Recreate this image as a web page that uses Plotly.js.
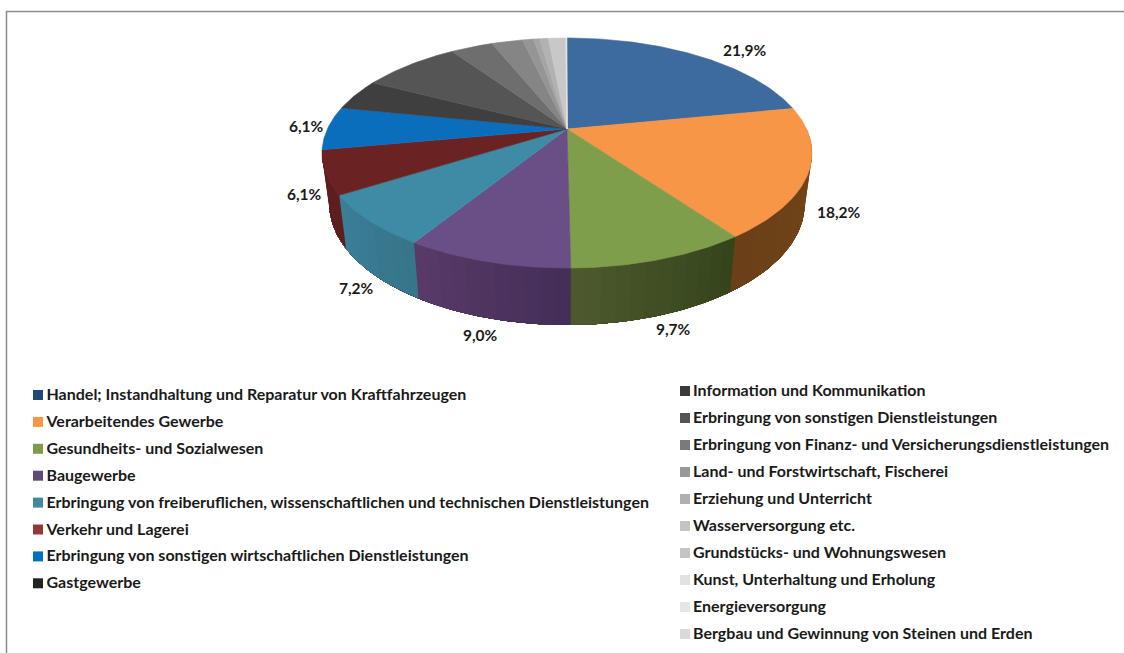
<!DOCTYPE html>
<html><head><meta charset="utf-8">
<script src="https://cdn.plot.ly/plotly-3.0.1.min.js"></script>
<style>html,body{margin:0;padding:0;background:#fff}#chart{width:1124px;height:653px}</style>
</head><body><div id="chart"></div>
<script>
const categories = [
 "Handel; Instandhaltung und Reparatur von Kraftfahrzeugen",
 "Verarbeitendes Gewerbe",
 "Gesundheits- und Sozialwesen",
 "Baugewerbe",
 "Erbringung von freiberuflichen, wissenschaftlichen und technischen Dienstleistungen",
 "Verkehr und Lagerei",
 "Erbringung von sonstigen wirtschaftlichen Dienstleistungen",
 "Gastgewerbe",
 "Information und Kommunikation",
 "Erbringung von sonstigen Dienstleistungen",
 "Erbringung von Finanz- und Versicherungsdienstleistungen",
 "Land- und Forstwirtschaft, Fischerei",
 "Erziehung und Unterricht",
 "Wasserversorgung etc.",
 "Grundstücks- und Wohnungswesen",
 "Kunst, Unterhaltung und Erholung",
 "Energieversorgung",
 "Bergbau und Gewinnung von Steinen und Erden"
];
const values = [21.9,18.2,9.7,9.0,7.2,6.1,6.1,4.4,7.9,3.4,2.5,0.9,0.5,0.7,1.4,0.05,0.03,0.02];
const topColors = ["#3d6a9f","#f79646","#7f9e4c","#6a4f86","#3e8ba6","#6a2322","#0a6ebd","#3f3f3f","#555555","#6e6e6e","#858585","#959595","#a5a5a5","#b2b2b2","#c8c8c8","#dcdcdc","#e2e2e2","#e6e6e6"];
const sideLeft  = ["#2c4d74","#6a4018","#4e5a2e","#5a3a68","#3a7f98","#5e1e1e","#07508a","#2e2e2e","#3e3e3e","#505050","#606060","#6c6c6c","#787878","#818181","#919191","#a0a0a0","#a4a4a4","#a8a8a8"];
const sideRight = ["#2c4d74","#744618","#33431a","#432e58","#37748a","#5e1e1e","#07508a","#2e2e2e","#3e3e3e","#505050","#606060","#6c6c6c","#787878","#818181","#919191","#a0a0a0","#a4a4a4","#a8a8a8"];
const legendColors = ["#1f497d","#f79646","#7f9a48","#604a7b","#3f8aa0","#953735","#0070c0","#222222","#3a3a3a","#555555","#7a7a7a","#999999","#b0b0b0","#c4c4c4","#c4c4c4","#e2e2e2","#e6e6e6","#d9d9d9"];
const labelled = 7;
const labelX = [745,839,673,480,356,304,306];
const labelY = [50,212,329,335,288,194,126];

// projection of the tilted pie
const P = {cx:567, cy:129, A:239.6, B:110, k:0.2087, mx:0.97, my:1.05, by:179};
const rad = d => d*Math.PI/180;
function topPt(deg){
  const X=Math.sin(rad(deg)), Y=Math.cos(rad(deg)), s=1/(1+P.k*Y);
  return [P.cx+P.A*X*s, P.cy-P.B*Y*s];
}
function botPt(deg){
  const p=topPt(deg);
  return [P.cx+P.mx*(p[0]-P.cx), P.by+P.my*(p[1]-P.cy)];
}
const total = values.reduce((a,b)=>a+b,0);
const hex = h=>[1,3,5].map(i=>parseInt(h.substr(i,2),16));
const mix = (a,b,t)=>{const A=hex(a),B=hex(b);return 'rgb('+A.map((v,i)=>Math.round(v+(B[i]-v)*t)).join(',')+')';};

const traces=[];
const poly=(xs,ys,color,w)=>traces.push({type:'scatter',mode:'lines',x:xs,y:ys,fill:'toself',fillcolor:color,
  line:{color:color,width:w},hoverinfo:'skip',showlegend:false});

let acc=0; const spans=[];
values.forEach(v=>{spans.push([acc/total*360,(acc+v)/total*360]);acc+=v;});

// side wall: painted from the right, each band reaching to the end of the wall so no seams show
const wallEnd = spans[5][1];
spans.forEach((sp,i)=>{
  const a=Math.max(sp[0],90), b=Math.min(sp[1],wallEnd);
  if(b<=a) return;
  const n=Math.max(1,Math.ceil((b-a)/3));
  for(let j=0;j<n;j++){
    const a0=a+(b-a)*j/n;
    const xs=[],ys=[];
    const m=Math.ceil((wallEnd-a0)/1);
    for(let q=0;q<=m;q++){const p=topPt(a0+(wallEnd-a0)*q/m);xs.push(p[0]);ys.push(p[1]);}
    for(let q=m;q>=0;q--){const p=botPt(a0+(wallEnd-a0)*q/m);xs.push(p[0]);ys.push(p[1]);}
    xs.push(xs[0]);ys.push(ys[0]);
    poly(xs,ys,mix(sideRight[i],sideLeft[i],(j+0.5)/n),0);
  }
});
// top face
spans.forEach((sp,i)=>{
  const xs=[P.cx],ys=[P.cy];
  const n=Math.max(2,Math.ceil((sp[1]-sp[0])/1));
  for(let j=0;j<=n;j++){const p=topPt(sp[0]+(sp[1]-sp[0])*j/n);xs.push(p[0]);ys.push(p[1]);}
  xs.push(P.cx);ys.push(P.cy);
  poly(xs,ys,topColors[i],0.6);
});

// legend drawn as two columns
const font={family:'Lato, sans-serif',size:16,color:'#1a1a1a',weight:700};
const labelFont={family:'Lato, sans-serif',size:15.5,color:'#1a1a1a',weight:700};
const legX=i=>i<8?38:685;
const legY=i=>i<8?395+26.9*i:391+27*(i-8);
const swX=categories.map((c,i)=>legX(i));
const swY=categories.map((c,i)=>legY(i));
traces.push({type:'scatter',mode:'markers',x:swX,y:swY,hoverinfo:'skip',showlegend:false,
  marker:{symbol:'square',size:10,color:legendColors,line:{width:0}}});
traces.push({type:'scatter',mode:'text',x:swX.map((v,i)=>v+(i<8?8.5:8)),y:swY.map(v=>v+1),text:categories.map(c=>'<b>'+c+'</b>'),
  textposition:'middle right',textfont:font,hoverinfo:'skip',showlegend:false});

const annotations=values.slice(0,labelled).map((v,i)=>({x:labelX[i],y:labelY[i],xref:'x',yref:'y',showarrow:false,
  text:'<b>'+v.toFixed(1).replace('.',',')+'%</b>',font:labelFont}));

const layout={width:1124,height:653,margin:{l:0,r:0,t:0,b:0},paper_bgcolor:'#fff',plot_bgcolor:'#fff',showlegend:false,
  xaxis:{range:[0,1124],visible:false,fixedrange:true},
  yaxis:{range:[653,0],visible:false,fixedrange:true},
  annotations:annotations,
  shapes:[
   {type:'line',xref:'x',yref:'y',x0:6,x1:1124,y0:11.5,y1:11.5,line:{color:'#8c8c8c',width:1.5}},
   {type:'line',xref:'x',yref:'y',x0:6.5,x1:6.5,y0:11,y1:653,line:{color:'#8c8c8c',width:1.5}}
  ]};
Plotly.newPlot('chart',traces,layout,{displayModeBar:false,staticPlot:true});
</script></body></html>
